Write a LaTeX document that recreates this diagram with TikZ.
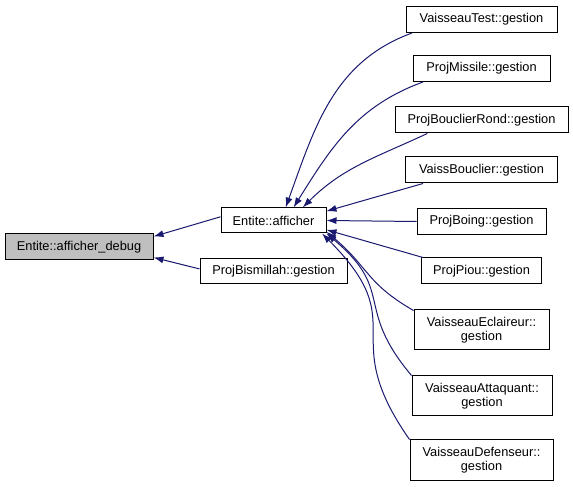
\documentclass[tikz,border=0pt]{standalone}
\usepackage{fontspec}
\setmainfont{Liberation Sans}
\usetikzlibrary{arrows.meta}
\definecolor{edgeblue}{HTML}{191970}
\definecolor{callergray}{HTML}{BFBFBF}
\tikzset{
  fn/.style={draw=black,line width=1pt,inner sep=0pt,minimum height=26pt,font=\fontsize{12.8}{14}\selectfont,align=center},
  callarrow/.style={<-,>={Latex[length=10pt,width=7pt]},draw=edgeblue,line width=1pt}
}
\begin{document}
\begin{tikzpicture}[x=1pt,y=1pt]
\useasboundingbox (0,0) rectangle (573,487);

\node[fn,fill=callergray,minimum width=148pt] (debug) at (79,240) {Entite::afficher\_debug};
\node[fn,minimum width=105pt,minimum height=25pt] (afficher) at (273.5,266.5) {Entite::afficher};
\node[fn,minimum width=147pt,minimum height=25pt] (bism) at (273.5,215.5) {ProjBismillah::gestion};

\foreach \n/\y/\w/\t in {vtest/467.5/151/VaisseauTest, missile/418.5/137/ProjMissile,
    brond/367/173/ProjBouclierRond, vbouclier/317/152/VaissBouclier,
    boing/265.5/129/ProjBoing, piou/216/120/ProjPiou}
  \node[fn,minimum width=\w pt] (\n) at (481.5,\y) {\t::gestion};

\node[fn,minimum width=135pt,minimum height=40pt] (eclair) at (481.5,157) {VaisseauEclaireur::\\gestion};
\node[fn,minimum width=140pt,minimum height=40pt] (attaq) at (482,91) {VaisseauAttaquant::\\gestion};
\node[fn,minimum width=143pt,minimum height=41pt] (defens) at (481.5,26.5) {VaisseauDefenseur::\\gestion};

\draw[callarrow] (debug.8) -- (afficher.176);
\draw[callarrow] (debug.-8) -- (bism.178);

\draw[callarrow] (afficher.47) to[out=70,in=200] (vtest.191);
\draw[callarrow] (afficher.33) to[out=58,in=200] (missile.193);
\draw[callarrow] (afficher.24) to[out=45,in=205] (brond.194);
\draw[callarrow] (afficher.10) -- (vbouclier.193);
\draw[callarrow] (afficher.east) -- (boing.west);
\draw[callarrow] (afficher.-10) -- (piou.167);
\draw[callarrow] (afficher.-12) to[out=-40,in=150,looseness=1.2] (eclair.164);
\draw[callarrow] (afficher.south east) to[out=-40,in=130,looseness=1.4] (attaq.north west);
\draw[callarrow] (afficher.-15) to[out=-45,in=125,looseness=1.5] (defens.north west);

\end{tikzpicture}
\end{document}
